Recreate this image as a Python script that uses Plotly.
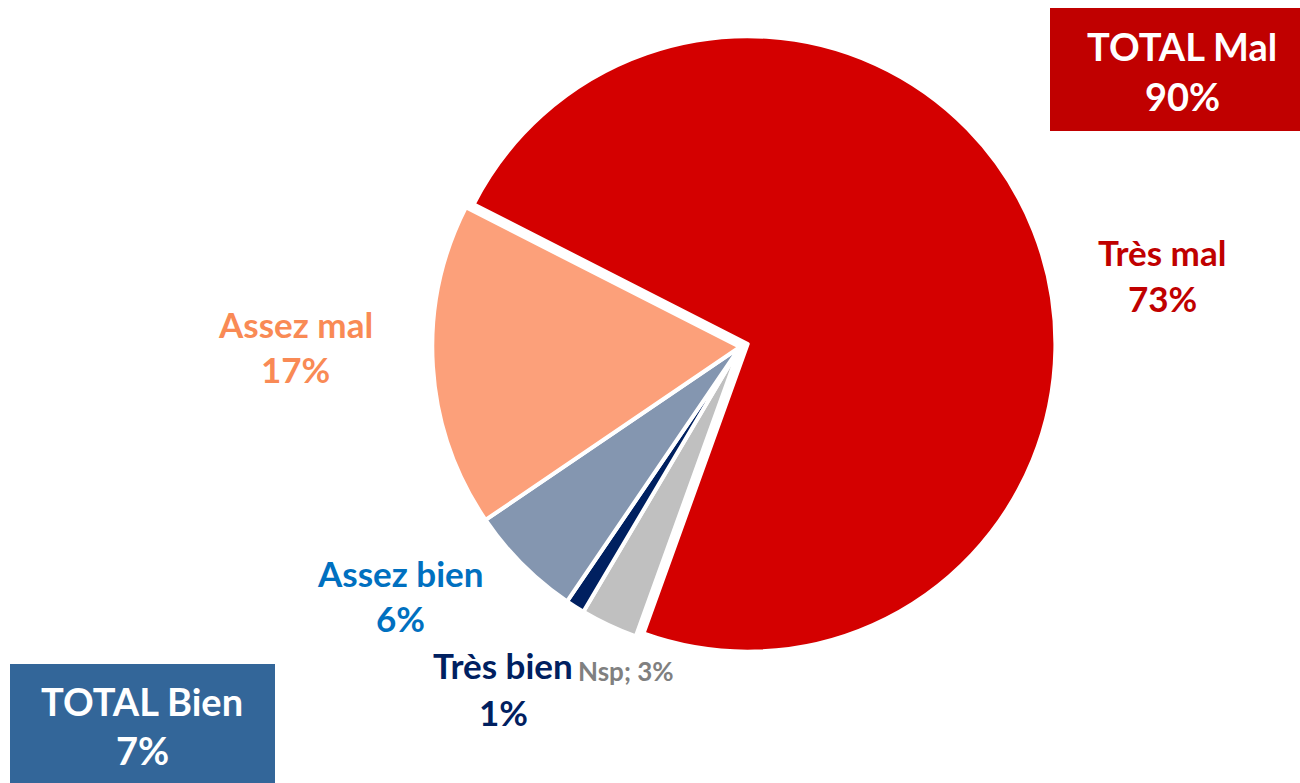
import plotly.graph_objects as go

W, H = 1300, 783

labels = ["Très mal", "Nsp", "Très bien", "Assez bien", "Assez mal"]
values = [73, 3, 1, 6, 17]
slice_colors = ["#D40000", "#C0C0C0", "#002060", "#8496B0", "#FCA07A"]
label_colors = ["#C00000", "#808080", "#002060", "#0070C0", "#F98A55"]
pulls = [0.027, 0, 0, 0, 0]

total_mal = values[0] + values[4]
total_bien = values[2] + values[3]

fig = go.Figure()
fig.add_trace(go.Pie(
    labels=labels, values=values, sort=False, direction="clockwise",
    rotation=297, pull=pulls, textinfo="none", hoverinfo="label+percent",
    marker=dict(colors=slice_colors, line=dict(color="white", width=4)),
    domain=dict(x=[424 / W, 1056 / W], y=[1 - 663 / H, 1 - 31 / H]),
    showlegend=False,
))

def px(x):
    return x / W

def py(y):
    return 1 - y / H

font_fam = "Lato, 'Open Sans', sans-serif"
# label positions (pixel centers): name line, value line
label_pos = {
    "Très mal": (1162, 252, 298),
    "Assez mal": (295, 324, 369),
    "Assez bien": (400, 573, 618),
    "Très bien": (503, 665, 712),
}
annos = []
for lab, val, col in zip(labels, values, label_colors):
    if lab in label_pos:
        x, y1, y2 = label_pos[lab]
        annos.append(dict(x=px(x), y=py(y1), text=f"<b>{lab}</b>", showarrow=False,
                          xref="paper", yref="paper", xanchor="center", yanchor="middle",
                          font=dict(family=font_fam, size=35, color=col)))
        annos.append(dict(x=px(x), y=py(y2), text=f"<b>{val}%</b>", showarrow=False,
                          xref="paper", yref="paper", xanchor="center", yanchor="middle",
                          font=dict(family=font_fam, size=35, color=col)))
    elif lab == "Nsp":
        annos.append(dict(x=px(626), y=py(671), text=f"<b>{lab}; {val}%</b>", showarrow=False,
                          xref="paper", yref="paper", xanchor="center", yanchor="middle",
                          font=dict(family=font_fam, size=26, color=col)))

# total boxes
shapes = [
    dict(type="rect", xref="paper", yref="paper", x0=px(1050), x1=px(1300), y0=py(131), y1=py(8),
         fillcolor="#C00000", line=dict(width=0), layer="below"),
    dict(type="rect", xref="paper", yref="paper", x0=px(10), x1=px(275), y0=py(783), y1=py(664),
         fillcolor="#336699", line=dict(width=0), layer="below"),
]
for x, y1, y2, t1, t2 in [(1182, 46, 96, "TOTAL Mal", f"{total_mal}%"),
                          (142, 701, 750, "TOTAL Bien", f"{total_bien}%")]:
    for y, t in [(y1, t1), (y2, t2)]:
        annos.append(dict(x=px(x), y=py(y), text=f"<b>{t}</b>", showarrow=False,
                          xref="paper", yref="paper", xanchor="center", yanchor="middle",
                          font=dict(family=font_fam, size=38, color="white")))

fig.update_layout(
    width=W, height=H, margin=dict(l=0, r=0, t=0, b=0),
    paper_bgcolor="white", plot_bgcolor="white",
    annotations=annos, shapes=shapes,
)
fig.write_html("out.html", config={"displayModeBar": False},
               post_script="document.body.style.margin='0';document.body.style.overflow='hidden';")
